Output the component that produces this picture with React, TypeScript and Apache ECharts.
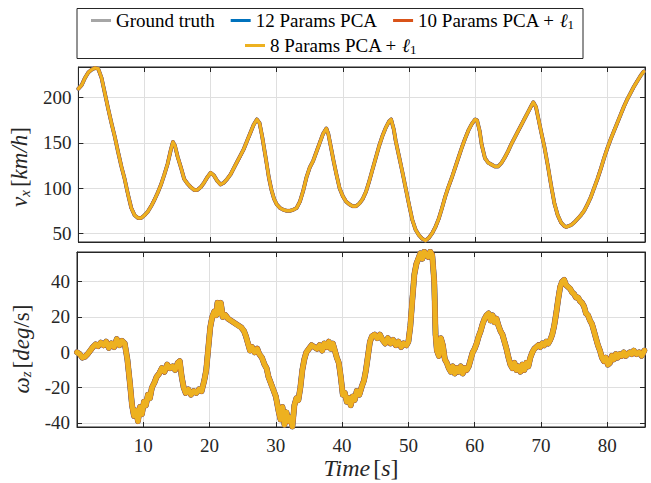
import React, { useEffect, useRef } from "react";
import * as echarts from "echarts";

const seriesNames = ["Ground truth", "12 Params PCA", "10 Params PCA + ℓ1", "8 Params PCA + ℓ1"];
const seriesColors = ["#A6A6A6", "#0072BD", "#D95319", "#EDB120"];

const xTickValues = [10, 20, 30, 40, 50, 60, 70, 80];
const vxTickValues = [50, 100, 150, 200];
const wzTickValues = [-40, -20, 0, 20, 40];

const vxTime = [0, 0.5, 1, 1.5, 2, 2.5, 3, 3.5, 4, 4.5, 5, 5.5, 6, 6.5, 7, 7.5, 8, 8.5, 9, 9.5, 10, 10.5, 11, 11.5, 12, 12.5, 13, 13.5, 14, 14.3, 14.6, 15, 15.5, 16, 16.5, 17, 17.5, 18, 18.5, 19, 19.5, 20, 20.5, 21, 21.5, 22, 22.5, 23, 23.5, 24, 24.5, 25, 25.5, 26, 26.5, 27, 27.4, 27.8, 28.3, 28.8, 29.2, 29.6, 30, 30.5, 31, 31.5, 32, 32.5, 33, 33.5, 34, 34.5, 35, 35.5, 36, 36.5, 37, 37.5, 37.8, 38.2, 38.6, 39, 39.5, 40, 40.5, 41, 41.5, 42, 42.5, 43, 43.5, 44, 44.5, 45, 45.5, 46, 46.5, 47, 47.3, 47.7, 48, 48.5, 49, 49.5, 50, 50.5, 51, 51.5, 52, 52.5, 53, 53.5, 54, 54.5, 55, 55.5, 56, 56.5, 57, 57.5, 58, 58.5, 59, 59.5, 60, 60.3, 60.7, 61, 61.5, 62, 62.5, 63, 63.5, 64, 64.5, 65, 65.5, 66, 66.5, 67, 67.5, 68, 68.5, 68.8, 69.2, 69.6, 70, 70.5, 71, 71.5, 72, 72.5, 73, 73.5, 73.8, 74.5, 75, 75.5, 76, 76.5, 77, 77.5, 78, 78.5, 79, 79.5, 80, 80.5, 81, 81.5, 82, 82.5, 83, 83.5, 84, 84.5, 85, 85.5];
const vxValues = [210, 214, 222, 228, 231, 233, 232, 222, 205, 188, 172, 157, 140, 124, 110, 93, 78, 70, 67, 67, 70, 74, 80, 87, 95, 104, 115, 127, 143, 151, 147, 135, 123, 110, 105, 101, 98, 98, 101, 106, 112, 117, 114, 108, 104, 106, 110, 115, 122, 129, 136, 143, 152, 161, 170, 176, 172, 157, 135, 112, 98, 88, 82, 78, 76, 75, 75, 76, 78, 85, 97, 112, 123, 130, 140, 150, 160, 166, 160, 145, 130, 116, 100, 91, 85, 82, 80, 80, 83, 88, 96, 108, 121, 134, 147, 158, 167, 174, 176, 165, 152, 135, 118, 100, 82, 65, 54, 48, 44, 42, 45, 50, 57, 66, 78, 91, 102, 112, 123, 134, 145, 155, 164, 171, 176, 175, 163, 148, 133, 128, 126, 124, 124, 128, 134, 141, 149, 156, 163, 170, 177, 184, 191, 195, 190, 176, 162, 145, 125, 103, 83, 70, 62, 58, 57, 59, 62, 66, 70, 75, 82, 90, 100, 110, 121, 133, 144, 154, 163, 172, 181, 190, 198, 205, 212, 218, 224, 229];

const wzTime = [0, 0.4, 0.8, 1.2, 1.6, 2, 2.4, 2.8, 3.2, 3.6, 4, 4.4, 4.8, 5.2, 5.6, 6, 6.4, 6.8, 7.2, 7.6, 8, 8.3, 8.6, 8.9, 9.2, 9.5, 9.8, 10.1, 10.4, 10.7, 11, 11.3, 11.7, 12, 12.4, 12.8, 13.2, 13.6, 14, 14.4, 14.8, 15.2, 15.5, 15.8, 16.1, 16.4, 16.8, 17.2, 17.6, 18, 18.4, 18.8, 19.2, 19.5, 19.8, 20.1, 20.4, 20.7, 21, 21.2, 21.4, 21.7, 22, 22.4, 22.8, 23.2, 23.6, 24, 24.4, 24.8, 25.2, 25.5, 25.8, 26.1, 26.4, 26.8, 27.2, 27.5, 27.9, 28.3, 28.6, 28.9, 29.2, 29.6, 30, 30.4, 30.7, 31, 31.3, 31.6, 31.9, 32.2, 32.5, 32.8, 33.1, 33.4, 33.7, 34, 34.3, 34.6, 35, 35.4, 35.8, 36.2, 36.6, 37, 37.3, 37.7, 38, 38.3, 38.6, 38.9, 39.2, 39.5, 39.8, 40.1, 40.4, 40.7, 41, 41.3, 41.6, 41.9, 42.2, 42.6, 43, 43.3, 43.6, 43.9, 44.2, 44.5, 44.9, 45.3, 45.7, 46.1, 46.5, 46.9, 47.3, 47.7, 48.1, 48.5, 48.9, 49.3, 49.7, 50, 50.3, 50.6, 50.9, 51.2, 51.5, 51.8, 52.1, 52.4, 52.7, 53, 53.3, 53.6, 53.9, 54.1, 54.3, 54.6, 54.9, 55.2, 55.5, 55.8, 56.1, 56.4, 56.7, 57, 57.3, 57.6, 57.9, 58.2, 58.5, 58.8, 59.1, 59.4, 59.7, 60, 60.3, 60.6, 60.9, 61.2, 61.5, 61.8, 62.1, 62.4, 62.7, 63, 63.3, 63.6, 63.9, 64.2, 64.5, 64.8, 65.1, 65.4, 65.7, 66, 66.3, 66.6, 66.9, 67.2, 67.5, 67.8, 68.1, 68.4, 68.7, 69, 69.3, 69.6, 69.9, 70.2, 70.5, 70.8, 71.1, 71.4, 71.7, 72, 72.3, 72.6, 72.9, 73.2, 73.5, 73.8, 74.1, 74.4, 74.7, 75, 75.3, 75.6, 75.9, 76.2, 76.5, 76.8, 77.1, 77.4, 77.7, 78, 78.3, 78.6, 78.9, 79.2, 79.5, 79.8, 80.1, 80.4, 80.7, 81, 81.3, 81.6, 81.9, 82.2, 82.5, 82.8, 83.1, 83.4, 83.7, 84, 84.4, 84.8, 85.2, 85.6];
const wzValues = [0, -1, -3, -2.5, -1, 1, 3, 4.5, 3.5, 5.5, 4, 6, 2.5, 5, 3, 7.5, 4, 6.5, 5, -4, -18, -30, -36, -33, -39, -31, -35, -28, -30, -24, -26, -20, -17, -14, -12, -9, -11, -7, -9, -8, -10, -6, -5, -14, -20, -23, -21, -24, -22, -23, -21, -22, -16, -10, 2, 14, 20, 23, 21, 28, 22, 28, 20, 21, 19, 18, 17, 16, 15, 14, 12, 9, 5, 1, 3, 0, 2, -1, -3, -7, -9, -14, -17, -21, -25, -33, -38, -31, -41, -34, -39, -37, -42, -30, -26, -27, -20, -10, -4, 0, 2, 4, 3, 2, 4, 1, 5, 3, 6, 2, 5, 1, -3, -6, -14, -24, -23, -28, -26, -30, -25, -27, -22, -24, -19, -16, -10, -2, 6, 9, 10, 8, 10, 7, 5, 8, 5, 7, 4, 6, 3, 5, 4, 6, 15, 30, 44, 50, 53, 56, 53, 57, 55, 54, 57, 55, 40, 10, 1, -2, 8, 4, -4, -6, -9, -11, -8, -12, -9, -11, -8, -12, -9, -10, -8, -4, 0, 2, 5, 9, 12, 16, 19, 21, 22, 18, 21, 17, 19, 15, 12, 10, 6, 2, -3, -7, -9, -6, -10, -8, -11, -7, -10, -6, -8, -3, 0, 2, 3, 4, 3, 5, 4, 6, 5, 7, 10, 15, 22, 30, 37, 40, 41, 38, 37, 36, 34, 33, 31, 31, 29, 28, 26, 22, 21, 18, 16, 12, 8, 4, 1, -3, -5, -3, -7, -6, -2, -4, -1, -3, -1, -2, 0, -2, -1, 0, -1, 1, -1, 0, -2, 1];

const FONT = "Liberation Serif";
const AX = "#262626";

function zip(t: number[], v: number[]) {
  return t.map((x, i) => [x, v[i]]);
}

function legendFormatter(name: string) {
  if (name.endsWith("ℓ1")) {
    return "{n|" + name.slice(0, -2) + "}{l|ℓ}{s|1}";
  }
  return "{n|" + name + "}";
}

const legendRich = {
  n: { fontFamily: FONT, fontSize: 19, color: "#000" },
  l: { fontFamily: FONT, fontSize: 19, color: "#000", fontStyle: "italic" },
  s: { fontFamily: FONT, fontSize: 13, color: "#000", padding: [8, 0, 0, 0] },
};

export default function App() {
  const ref = useRef<HTMLDivElement>(null);
  useEffect(() => {
    const chart = echarts.init(ref.current!, null, { renderer: "svg" });
    const vxData = zip(vxTime, vxValues);
    const wzData = zip(wzTime, wzValues);
    const topWidths = [4, 3.5, 3.5, 3];
    const botWidths = [6, 5.5, 5.5, 5];
    const series: any[] = [];
    seriesNames.forEach((name, i) => {
      series.push({
        type: "line",
        name,
        xAxisIndex: 0,
        yAxisIndex: 0,
        data: vxData,
        showSymbol: false,
        color: seriesColors[i],
        lineStyle: { width: topWidths[i], color: seriesColors[i], join: "round", cap: "round" },
        clip: true,
        z: 2 + i,
      });
    });
    seriesNames.forEach((name, i) => {
      series.push({
        type: "line",
        name,
        xAxisIndex: 2,
        yAxisIndex: 2,
        data: wzData,
        showSymbol: false,
        color: seriesColors[i],
        lineStyle: { width: botWidths[i], color: seriesColors[i], join: "round", cap: "round" },
        clip: true,
        z: 2 + i,
      });
    });

    const labelStyle = { fontFamily: FONT, fontSize: 19, color: AX };
    const splitLine = { show: true, lineStyle: { color: "#DFDFDF", width: 1 } };
    const axisLine = { show: true, onZero: false, lineStyle: { color: AX, width: 1 } };
    const mkX = (grid: number, pos: string, main: boolean, labels: boolean) => ({
      type: "value",
      gridIndex: grid,
      position: pos,
      min: 0,
      max: 85.7,
      axisLine,
      axisTick: { show: true, inside: true, length: 5, lineStyle: { color: AX }, customValues: xTickValues },
      axisLabel: labels
        ? { show: true, customValues: xTickValues, margin: 9, ...labelStyle }
        : { show: false },
      splitLine: main ? splitLine : { show: false },
      ...(labels
        ? {
            name: "{i|Time} {n|[}{i|s}{n|]}",
            nameLocation: "middle",
            nameGap: 28,
            nameTextStyle: {
              fontFamily: FONT,
              rich: {
                i: { fontFamily: FONT, fontSize: 24, fontStyle: "italic", color: AX },
                n: { fontFamily: FONT, fontSize: 24, color: AX },
              },
            },
          }
        : {}),
    });
    const mkY = (grid: number, pos: string, main: boolean, min: number, max: number, ticks: number[], name?: string, gap?: number, shift?: number) => ({
      type: "value",
      gridIndex: grid,
      position: pos,
      min,
      max,
      axisLine,
      axisTick: { show: true, inside: true, length: 5, lineStyle: { color: AX }, customValues: ticks },
      axisLabel: main ? { show: true, customValues: ticks, margin: 7, ...labelStyle } : { show: false },
      splitLine: main ? splitLine : { show: false },
      ...(name
        ? {
            name,
            nameLocation: "middle",
            nameRotate: 90,
            nameGap: gap,
            nameTextStyle: {
              fontFamily: FONT,
              padding: [0, shift || 0, 0, 0],
              rich: {
                i: { fontFamily: FONT, fontSize: 23, fontStyle: "italic", color: AX },
                n: { fontFamily: FONT, fontSize: 23, color: AX },
                s: { fontFamily: FONT, fontSize: 15, fontStyle: "italic", color: AX, padding: [10, 0, 0, 0] },
              },
            },
          }
        : {}),
    });

    const option: any = {
      animation: false,
      backgroundColor: "#fff",
      textStyle: { fontFamily: FONT },
      grid: [
        { left: 77, right: 6, top: 67, height: 175, show: true, borderColor: AX, borderWidth: 1, backgroundColor: "transparent" },
        { left: 77, right: 6, top: 252, height: 175, show: true, borderColor: AX, borderWidth: 1, backgroundColor: "transparent" },
      ],
      xAxis: [mkX(0, "bottom", true, false), mkX(0, "top", false, false), mkX(1, "bottom", true, true), mkX(1, "top", false, false)],
      yAxis: [
        mkY(0, "left", true, 40.4, 234, vxTickValues, "{i|v}{s|x} {n|[}{i|km/h}{n|]}", 40, 25),
        mkY(0, "right", false, 40.4, 234, vxTickValues),
        mkY(1, "left", true, -42.3, 56.8, wzTickValues, "{i|ω}{s|z} {n|[}{i|deg}{n|/s]}", 40, 19),
        mkY(1, "right", false, -42.3, 56.8, wzTickValues),
      ],
      legend: [
        {
          data: seriesNames.slice(0, 3),
          top: 11,
          left: 91,
          icon: "rect",
          itemWidth: 20,
          itemHeight: 3,
          itemGap: 16,
          padding: 0,
          formatter: legendFormatter,
          textStyle: { fontFamily: FONT, fontSize: 19, rich: legendRich },
        },
        {
          data: seriesNames.slice(3),
          top: 36,
          left: 245,
          icon: "rect",
          itemWidth: 20,
          itemHeight: 3,
          itemGap: 16,
          padding: 0,
          formatter: legendFormatter,
          textStyle: { fontFamily: FONT, fontSize: 19, rich: legendRich },
        },
      ],
      graphic: [
        {
          type: "rect",
          shape: { x: 77, y: 8.5, width: 506, height: 50 },
          style: { fill: "#fff", stroke: AX, lineWidth: 1 },
          z: -1,
        },
      ],
      series,
    };
    chart.setOption(option);
    return () => chart.dispose();
  }, []);
  return <div ref={ref} style={{ position: "absolute", left: 0, top: 0, width: 651, height: 483, background: "#fff" }} />;
}
